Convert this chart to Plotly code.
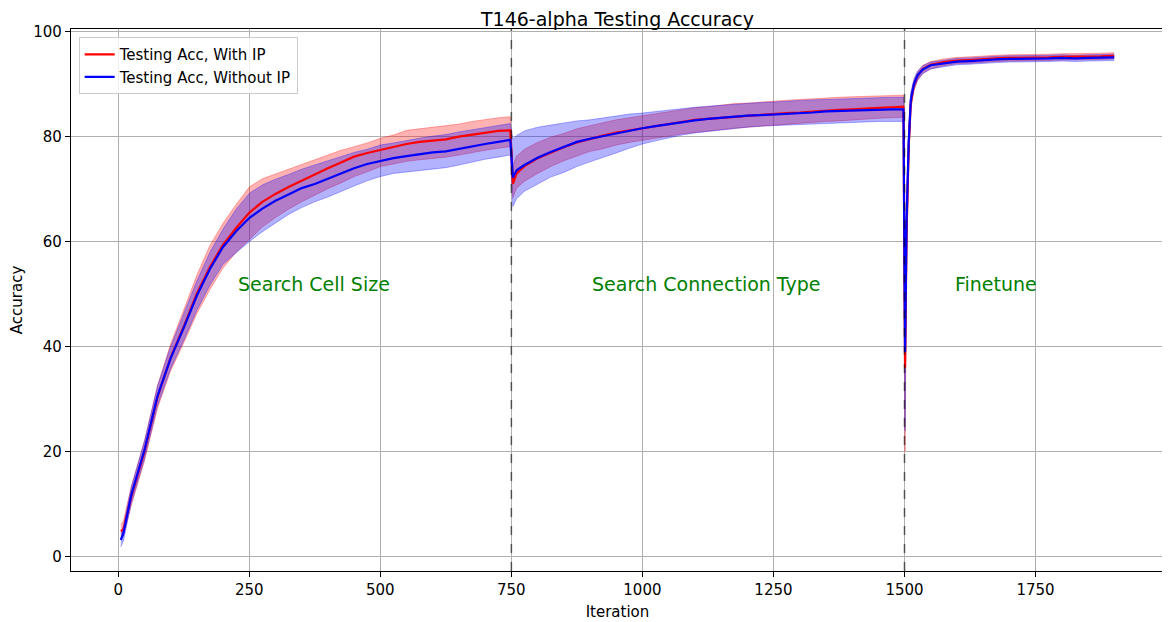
import plotly.graph_objs as go

# iteration positions (search cell size / search connection type / finetune)
iters = [5, 10, 25, 50, 75, 100, 125, 150, 175, 200, 225, 250, 275, 300, 325, 350,
         375, 400, 425, 450, 475, 500, 525, 550, 575, 600, 625, 650, 675, 700, 725, 748,
         753, 760, 775, 800, 825, 850, 875, 900, 925, 950, 975, 1000, 1025, 1050, 1075,
         1100, 1125, 1150, 1175, 1200, 1225, 1250, 1275, 1300, 1325, 1350, 1375, 1400,
         1425, 1450, 1475, 1498,
         1501, 1504, 1508, 1512, 1518, 1525, 1535, 1550, 1575, 1600, 1625, 1650, 1675,
         1700, 1725, 1750, 1775, 1800, 1825, 1850, 1875, 1900]

# with IP
red_mean = [4.9, 5.2, 11.5, 20.0, 30.4, 37.9, 43.8, 50.1, 55.2, 59.4, 62.6, 65.5, 67.6, 69.1, 70.4, 71.6,
            72.9, 74.0, 75.1, 76.2, 76.9, 77.5, 78.0, 78.6, 79.0, 79.3, 79.5, 80.0, 80.4, 80.8, 81.1, 81.2,
            71.0, 73.0, 74.4, 75.9, 77.0, 78.0, 78.9, 79.6, 80.2, 80.8, 81.2, 81.7, 82.1, 82.5, 82.9,
            83.2, 83.4, 83.6, 83.8, 84.0, 84.2, 84.3, 84.5, 84.6, 84.8, 84.9, 85.1, 85.2,
            85.4, 85.5, 85.6, 85.7,
            36.0, 62.0, 78.0, 86.5, 89.8, 91.6, 92.9, 93.7, 94.2, 94.5, 94.6, 94.8, 94.9,
            95.0, 95.0, 95.1, 95.1, 95.2, 95.2, 95.3, 95.3, 95.4]
red_hi = [6.2, 6.8, 13.4, 22.0, 32.6, 40.5, 47.0, 53.6, 59.3, 63.5, 67.1, 70.4, 72.0, 72.9, 73.8, 74.6,
          75.6, 76.5, 77.4, 78.1, 78.8, 79.7, 80.3, 81.2, 81.5, 81.8, 82.0, 82.4, 82.9, 83.3, 83.6, 83.8,
          74.5, 76.3, 77.6, 78.9, 79.9, 80.6, 81.5, 82.1, 82.7, 83.2, 83.6, 84.0, 84.4, 84.8, 85.2,
          85.5, 85.7, 86.0, 86.3, 86.4, 86.6, 86.8, 87.0, 87.1, 87.2, 87.4, 87.5, 87.6,
          87.7, 87.8, 87.8, 87.9,
          50.0, 67.0, 81.0, 88.0, 90.8, 92.4, 93.6, 94.3, 94.8, 95.1, 95.2, 95.4, 95.5,
          95.6, 95.6, 95.7, 95.7, 95.8, 95.8, 95.9, 95.9, 96.0]
red_lo = [3.8, 4.0, 9.8, 18.2, 28.3, 35.4, 40.7, 46.3, 50.9, 55.0, 58.0, 60.4, 62.8, 64.6, 66.2, 67.6,
          68.9, 70.1, 71.2, 72.4, 73.3, 74.3, 74.8, 75.3, 75.6, 75.8, 76.1, 76.5, 77.0, 77.4, 77.8, 78.1,
          68.4, 70.2, 71.5, 73.0, 74.3, 75.4, 76.3, 77.2, 77.7, 78.4, 78.9, 79.3, 79.8, 80.2, 80.5,
          80.8, 81.1, 81.3, 81.6, 81.8, 82.0, 82.1, 82.3, 82.5, 82.7, 82.9, 83.0, 83.2,
          83.3, 83.5, 83.6, 83.7,
          20.0, 57.0, 75.0, 85.0, 88.8, 90.7, 92.1, 92.9, 93.5, 93.9, 94.0, 94.2, 94.3,
          94.4, 94.4, 94.5, 94.5, 94.6, 94.6, 94.7, 94.7, 94.8]

# without IP
blue_mean = [3.2, 4.5, 11.8, 20.3, 30.6, 37.8, 43.6, 49.7, 54.8, 59.0, 62.0, 64.5, 66.3, 67.8, 69.0, 70.2,
             71.0, 72.0, 73.0, 74.0, 74.8, 75.4, 75.9, 76.3, 76.7, 77.0, 77.2, 77.7, 78.2, 78.6, 79.0, 79.4,
             72.2, 73.6, 74.6, 76.0, 77.1, 78.1, 79.0, 79.6, 80.1, 80.7, 81.2, 81.6, 82.0, 82.4, 82.8,
             83.1, 83.4, 83.6, 83.9, 84.0, 84.1, 84.2, 84.4, 84.5, 84.6, 84.8, 84.9, 85.0,
             85.1, 85.1, 85.2, 85.2,
             39.0, 64.0, 79.0, 87.0, 90.0, 91.7, 92.8, 93.6, 94.0, 94.3, 94.4, 94.6, 94.7,
             94.8, 94.8, 94.9, 94.9, 95.0, 94.9, 95.0, 95.0, 95.1]
blue_hi = [4.5, 5.8, 13.3, 22.0, 32.5, 40.0, 46.3, 52.5, 58.0, 62.4, 66.2, 69.2, 70.8, 71.9, 72.8, 73.8,
           74.6, 75.4, 76.3, 77.0, 77.6, 78.4, 78.8, 79.3, 79.7, 80.1, 80.4, 80.9, 81.3, 81.8, 82.1, 82.5,
           79.5, 80.2, 81.1, 81.8, 82.2, 82.6, 83.0, 83.2, 83.6, 84.0, 84.3, 84.5, 84.8, 85.1, 85.4,
           85.6, 85.8, 86.0, 86.2, 86.3, 86.5, 86.6, 86.8, 86.9, 87.0, 87.1, 87.2, 87.3,
           87.4, 87.4, 87.5, 87.5,
           52.0, 69.0, 82.0, 88.5, 91.0, 92.5, 93.5, 94.2, 94.6, 94.9, 95.0, 95.2, 95.3,
           95.4, 95.4, 95.5, 95.5, 95.6, 95.5, 95.6, 95.6, 95.7]
blue_lo = [1.9, 3.0, 10.2, 18.6, 28.8, 35.8, 41.2, 46.9, 51.7, 55.7, 57.9, 60.0, 61.9, 63.6, 65.2, 66.5,
           67.6, 68.5, 69.6, 70.6, 71.6, 72.4, 73.0, 73.3, 73.6, 73.9, 74.1, 74.6, 75.2, 75.7, 76.1, 76.5,
           66.7, 68.2, 69.6, 71.0, 72.3, 73.2, 74.3, 75.2, 76.0, 76.9, 77.8, 78.6, 79.2, 79.8, 80.3,
           80.7, 81.0, 81.3, 81.6, 81.8, 82.0, 82.1, 82.2, 82.4, 82.5, 82.6, 82.7, 82.7,
           82.8, 82.9, 82.9, 82.9,
           24.0, 59.0, 76.0, 85.5, 89.0, 90.8, 92.0, 92.9, 93.3, 93.7, 93.8, 94.0, 94.1,
           94.2, 94.2, 94.3, 94.3, 94.4, 94.3, 94.4, 94.4, 94.5]

phase_bounds = [750, 1500]
phase_names = ['Search Cell Size', 'Search Connection Type', 'Finetune']
phase_label_x = [374, 1123, 1675]
phase_label_y = 52

font = 'DejaVu Sans, Liberation Sans, sans-serif'

fig = go.Figure()

# bands
for lo, hi, rgba in [(red_lo, red_hi, 'rgba(255,0,0,0.3)'), (blue_lo, blue_hi, 'rgba(0,0,255,0.3)')]:
    fig.add_trace(go.Scatter(x=iters, y=lo, mode='lines', line=dict(color=rgba, width=1),
                             showlegend=False, hoverinfo='skip'))
    fig.add_trace(go.Scatter(x=iters, y=hi, mode='lines', line=dict(color=rgba, width=1),
                             fill='tonexty', fillcolor=rgba, showlegend=False, hoverinfo='skip'))

# mean lines
fig.add_trace(go.Scatter(x=iters, y=red_mean, mode='lines', line=dict(color='red', width=2.2),
                         name='Testing Acc, With IP'))
fig.add_trace(go.Scatter(x=iters, y=blue_mean, mode='lines', line=dict(color='blue', width=2.2),
                         name='Testing Acc, Without IP'))

for b in phase_bounds:
    fig.add_shape(type='line', x0=b, x1=b, yref='paper', y0=0, y1=1,
                  line=dict(color='rgba(0,0,0,0.55)', width=1.6, dash='dash'))

for name, px in zip(phase_names, phase_label_x):
    fig.add_annotation(x=px, y=phase_label_y, text=name, showarrow=False,
                       font=dict(family=font, size=19, color='green'))

axis_common = dict(showline=True, linewidth=1.2, linecolor='black', mirror=True,
                   showgrid=True, gridcolor='#b0b0b0', gridwidth=1.2, zeroline=False,
                   ticks='outside', ticklen=5, tickwidth=1.2, tickcolor='black', automargin=False,
                   tickfont=dict(family=font, size=15, color='black'))

# page body has an 8px margin, so the figure is sized to fit the window after that offset
fig.update_layout(
    width=1162, height=614,
    title=dict(text='T146-alpha Testing Accuracy', x=0.5, xref='paper', y=0.982, yref='container',
               xanchor='center', yanchor='middle', font=dict(family=font, size=19, color='black')),
    legend=dict(x=0.007, y=0.985, xanchor='left', yanchor='top', traceorder='normal',
                bgcolor='rgba(255,255,255,0.8)', bordercolor='#cccccc', borderwidth=1,
                font=dict(family=font, size=15, color='black')),
    margin=dict(l=63, r=6, t=21, b=51, autoexpand=False),
    paper_bgcolor='white',
    plot_bgcolor='white',
    xaxis=dict(axis_common, range=[-90, 1995], tickvals=[0, 250, 500, 750, 1000, 1250, 1500, 1750],
               title=dict(text='Iteration', font=dict(family=font, size=15, color='black'), standoff=8)),
    yaxis=dict(axis_common, range=[-2.7, 100.5], tickvals=[0, 20, 40, 60, 80, 100],
               title=dict(text='Accuracy', font=dict(family=font, size=15, color='black'), standoff=18)),
)

fig.write_html("out.html")
